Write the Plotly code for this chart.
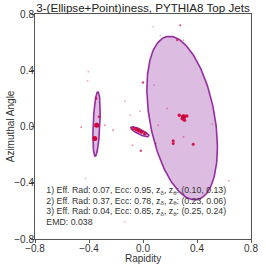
import numpy as np
import plotly.graph_objects as go

# Ellipse parameters: center x, center y, semi-major, semi-minor, angle (deg, major axis from x-axis)
ell_cx = [-0.344, 0.29, -0.023]
ell_cy = [0.018, 0.06, -0.038]
ell_a = [0.23, 0.59, 0.074]
ell_b = [0.025, 0.24, 0.018]
ell_ang = [87.4, 101.0, -25.0]

# Particles: rapidity, azimuth, size class, opacity
pt_x = [-0.343, -0.357, 0.300, 0.269, 0.324, 0.307, 0.290,
        -0.047, -0.011, 0.013, -0.070, -0.030,
        -0.346, -0.327, 0.224, 0.224, 0.372, -0.016, 0.276, 0.252, 0.000,
        -0.284, -0.221, -0.405, -0.410, -0.458, -0.135, 0.113, -0.078, -0.095,
        -0.023, 0.044, 0.300, 0.082, 0.178, 0.513, 0.095, 0.073, 0.128, 0.300,
        0.635, -0.425, -0.135]
pt_y = [0.009, -0.085, 0.069, 0.080, 0.075, 0.045, 0.055,
        -0.021, -0.038, -0.052, -0.014, -0.030,
        0.199, 0.069, -0.102, -0.121, -0.126, -0.173, 0.720, 0.614, 0.313,
        0.009, -0.026, 0.390, 0.325, -0.005, 0.180, 0.009, -0.133, 0.080,
        0.109, 0.092, -0.073, 0.294, 0.128, 0.016, -0.121, 0.709, 0.645, 0.614,
        -0.386, -0.370, -0.678]
pt_size = [5, 5, 5, 3.5, 3.5, 3.5, 3.5,
           4, 4, 3.5, 3.5, 4,
           2.5, 2.5, 3, 3, 3, 2.5, 2.2, 2.2, 2.5,
           2, 2, 1.8, 1.8, 2, 1.8, 1.8, 2, 1.8,
           1.8, 1.8, 1.8, 1.8, 1.8, 1.8, 1.8, 1.6, 1.6, 1.8,
           1.8, 1.6, 1.6]
pt_op = [1, 1, 1, 0.9, 0.9, 0.9, 0.9,
         0.9, 0.9, 0.9, 0.8, 0.9,
         0.8, 0.8, 0.9, 0.9, 0.9, 0.7, 0.7, 0.7, 0.7,
         0.45, 0.45, 0.35, 0.35, 0.45, 0.35, 0.4, 0.4, 0.35,
         0.35, 0.35, 0.4, 0.35, 0.35, 0.35, 0.4, 0.35, 0.35, 0.4,
         0.4, 0.35, 0.35]

info_lines = [
    "1) Eff. Rad: 0.07, Ecc: 0.95, z<sub>δ</sub>, z<sub>θ</sub>: (0.10, 0.13)",
    "2) Eff. Rad: 0.37, Ecc: 0.78, z<sub>δ</sub>, z<sub>θ</sub>: (0.23, 0.06)",
    "3) Eff. Rad: 0.04, Ecc: 0.85, z<sub>δ</sub>, z<sub>θ</sub>: (0.25, 0.24)",
    "EMD: 0.038",
]
info_x = [-0.716, -0.716, -0.716, -0.716]
info_y = [-0.455, -0.533, -0.605, -0.683]

tick_vals = [-0.8, -0.4, 0.0, 0.4, 0.8]
tick_text = ["−0.8", "−0.4", "0.0", "0.4", "0.8"]

FONT = "Liberation Sans"

fig = go.Figure()
t = np.linspace(0, 2 * np.pi, 200)
for cx, cy, a, b, ang in zip(ell_cx, ell_cy, ell_a, ell_b, ell_ang):
    th = np.deg2rad(ang)
    ex = cx + a * np.cos(t) * np.cos(th) - b * np.sin(t) * np.sin(th)
    ey = cy + a * np.cos(t) * np.sin(th) + b * np.sin(t) * np.cos(th)
    fig.add_trace(go.Scatter(x=ex, y=ey, mode="lines", fill="toself",
                             fillcolor="rgba(205,160,212,0.7)",
                             line=dict(color="rgb(150,45,160)", width=1.6),
                             hoverinfo="skip", showlegend=False))

fig.add_trace(go.Scatter(x=pt_x, y=pt_y, mode="markers",
                         marker=dict(size=pt_size, color="rgb(210,0,55)",
                                     opacity=pt_op, line=dict(width=0)),
                         showlegend=False))

fig.add_trace(go.Scatter(x=info_x, y=info_y, mode="text", text=info_lines,
                         textposition="middle right",
                         textfont=dict(family=FONT, size=8.75, color="#333333"),
                         hoverinfo="skip", showlegend=False))

title_font = dict(family=FONT, size=10, color="#333333")
fig.add_annotation(x=0.5, y=-19 / 225, xref="paper", yref="paper", text="Rapidity",
                   showarrow=False, xanchor="center", yanchor="middle", font=title_font)
fig.add_annotation(x=-25 / 223, y=0.5, xref="paper", yref="paper", text="Azimuthal Angle",
                   showarrow=False, xanchor="center", yanchor="middle", textangle=-90,
                   font=title_font)

axis_common = dict(range=[-0.8, 0.8], tickvals=tick_vals, ticktext=tick_text,
                   showgrid=False, zeroline=False, showline=True, mirror=True,
                   linecolor="#555555", linewidth=1, ticks="outside", ticklen=3,
                   tickcolor="#555555", tickfont=dict(family=FONT, size=10, color="#333333"))

fig.update_layout(
    width=266, height=266,
    margin=dict(l=35, r=8, t=14, b=27),
    paper_bgcolor="white", plot_bgcolor="white",
    title=dict(text="3-(Ellipse+Point)iness, PYTHIA8 Top Jets",
               x=0.5, xref="paper", xanchor="center",
               y=1 - 8 / 266, yref="container", yanchor="middle",
               font=dict(family=FONT, size=11.6, color="#222222")),
    xaxis=dict(**axis_common, ticklabelstandoff=-3),
    yaxis=dict(**axis_common, ticklabelstandoff=-5),
)

fig.write_html("out.html", config={"displayModeBar": False},
               post_script="document.body.style.margin='0';document.body.style.padding='0';")
